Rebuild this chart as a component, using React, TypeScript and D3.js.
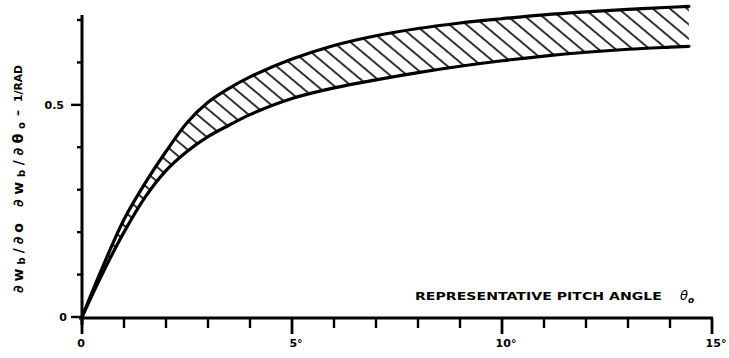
import React from "react";
import * as d3 from "d3";

// pitch angle θo, degrees
const angleDeg = [0, 0.5, 1, 1.5, 2, 2.5, 3, 3.5, 4, 5, 6, 7, 8, 9, 10, 11, 12, 13, 14, 14.45];
// upper bound of the band
const upperValues = [0, 0.12, 0.23, 0.315, 0.39, 0.458, 0.506, 0.539, 0.566, 0.608, 0.64, 0.663, 0.68, 0.693, 0.703, 0.712, 0.719, 0.725, 0.73, 0.732];
// lower bound of the band
const lowerValues = [0, 0.105, 0.2, 0.282, 0.345, 0.39, 0.425, 0.452, 0.477, 0.515, 0.54, 0.559, 0.576, 0.591, 0.604, 0.615, 0.624, 0.631, 0.636, 0.638];

const xMinorTicks = [1, 2, 3, 4, 6, 7, 8, 9, 11, 12, 13, 14];
const xMajorTicks = [0, 5, 10, 15];
const xTickLabels = ["0", "5°", "10°", "15°"];
const yMinorTicks = [0.1, 0.2, 0.3, 0.4, 0.6, 0.7];
const yMajorTicks = [0, 0.5];
const yTickLabels = ["0", "0.5"];

const xTitle = "REPRESENTATIVE PITCH ANGLE";

export default function App() {
  const W = 729;
  const H = 358;
  const x = d3.scaleLinear().domain([0, 15]).range([82, 712]);
  const y = d3.scaleLinear().domain([0, 0.7]).range([317, 20]);

  const pts = angleDeg.map((a, i) => ({ a, u: upperValues[i], l: lowerValues[i] }));
  const curve = d3.curveCatmullRom.alpha(0.5);
  const area = d3
    .area<any>()
    .x((d) => x(d.a))
    .y0((d) => y(d.l))
    .y1((d) => y(d.u))
    .curve(curve);
  const upperLine = d3
    .line<any>()
    .x((d) => x(d.a))
    .y((d) => y(d.u))
    .curve(curve);
  const lowerLine = d3
    .line<any>()
    .x((d) => x(d.a))
    .y((d) => y(d.l))
    .curve(curve);

  const font = "'DejaVu Sans', sans-serif";
  const axisY = y(0) + 1;
  const axisX = x(0);

  return (
    <svg
      width={W}
      height={H}
      viewBox={`0 0 ${W} ${H}`}
      style={{ position: "absolute", left: 0, top: 0, background: "#fff" }}
    >
      <defs>
        <pattern
          id="hatch"
          patternUnits="userSpaceOnUse"
          width={20}
          height={11}
          patternTransform="rotate(40)"
        >
          <line x1={0} y1={5} x2={20} y2={5} stroke="#000" strokeWidth={1.6} />
        </pattern>
      </defs>
      <rect x={0} y={0} width={W} height={H} fill="#fff" />

      {/* band */}
      <path d={area(pts) || ""} fill="url(#hatch)" stroke="none" />
      <path d={upperLine(pts) || ""} fill="none" stroke="#000" strokeWidth={3.2} strokeLinecap="round" />
      <path d={lowerLine(pts) || ""} fill="none" stroke="#000" strokeWidth={3.2} strokeLinecap="round" />

      {/* axes */}
      <line x1={axisX} y1={15} x2={axisX} y2={325} stroke="#000" strokeWidth={3} />
      <line x1={axisX - 3} y1={axisY} x2={x(15) + 1} y2={axisY} stroke="#000" strokeWidth={3} />

      {xMinorTicks.map((t) => (
        <line key={"xm" + t} x1={x(t)} x2={x(t)} y1={axisY} y2={axisY + 10} stroke="#000" strokeWidth={2.4} />
      ))}
      {xMajorTicks.map((t) => (
        <line key={"xM" + t} x1={x(t)} x2={x(t)} y1={axisY} y2={axisY + 16} stroke="#000" strokeWidth={2.8} />
      ))}
      {yMinorTicks.map((t) => (
        <line key={"ym" + t} x1={axisX - 5} x2={axisX} y1={y(t)} y2={y(t)} stroke="#000" strokeWidth={2.4} />
      ))}
      {yMajorTicks.map((t) => (
        <line key={"yM" + t} x1={axisX - 11} x2={axisX} y1={y(t)} y2={y(t)} stroke="#000" strokeWidth={2.4} />
      ))}

      {/* tick labels */}
      {xMajorTicks.map((t, i) => (
        <text
          key={"xl" + t}
          x={x(t) + (i === 0 ? -1 : 4)}
          y={347}
          textAnchor="middle"
          fontFamily={font}
          fontWeight="bold"
          fontSize={11}
        >
          {xTickLabels[i]}
        </text>
      ))}
      {yMajorTicks.map((t, i) => (
        <text
          key={"yl" + t}
          x={i === 0 ? 67 : 64}
          y={y(t) + 4}
          textAnchor="end"
          fontFamily={font}
          fontWeight="bold"
          fontSize={11}
        >
          {yTickLabels[i]}
        </text>
      ))}

      {/* x title */}
      <text x={415} y={300} fontFamily={font} fontWeight="bold" fontSize={10} textLength={247} lengthAdjust="spacingAndGlyphs">
        {xTitle}
      </text>
      <text x={680} y={300} fontFamily={font} fontStyle="italic" fontSize={13}>
        θ
        <tspan fontSize={9} fontWeight="bold" dy={3}>o</tspan>
      </text>

      {/* y title (rotated) */}
      <g transform="translate(23,293) rotate(-90)">
        <text x={0} y={0} fontFamily={font} fontWeight="bold" fontSize={14} textLength={70} lengthAdjust="spacing">
          ∂w<tspan fontSize={10} dy={2}>b</tspan>
          <tspan dy={-2}>/∂o</tspan>
        </text>
      </g>
      <g transform="translate(23,207) rotate(-90)">
        <text x={0} y={0} fontFamily={font} fontWeight="bold" fontSize={14} textLength={85} lengthAdjust="spacing">
          ∂w<tspan fontSize={10} dy={2}>b</tspan>
          <tspan dy={-2}>/∂θ</tspan>
          <tspan fontSize={10} dy={2}>o</tspan>
        </text>
      </g>
      <g transform="translate(22,116) rotate(-90)">
        <text x={0} y={0} fontFamily={font} fontWeight="bold" fontSize={12}>–</text>
      </g>
      <g transform="translate(22,102) rotate(-90)">
        <text x={0} y={0} fontFamily={font} fontWeight="bold" fontSize={10} textLength={37} lengthAdjust="spacingAndGlyphs">
          1/RAD
        </text>
      </g>
    </svg>
  );
}
